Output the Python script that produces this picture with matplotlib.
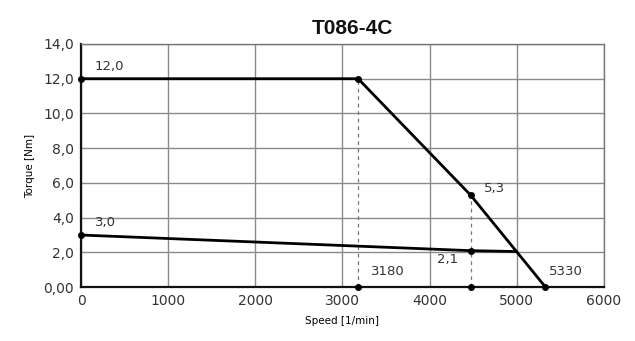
import numpy as np
import matplotlib
matplotlib.use('Agg')
from matplotlib import pyplot as plt

# torque curves (speed in 1/min, torque in Nm)
peak_speed = [0, 3180, 4470, 5330]
peak_torque = [12.0, 12.0, 5.3, 0.0]
cont_speed = [0, 4470, 4980]
cont_torque = [3.0, 2.1, 2.05]

# marker points
dot_x = [0, 0, 3180, 4470, 4470, 3180, 4470, 5330]
dot_y = [12.0, 3.0, 12.0, 5.3, 2.1, 0, 0, 0]

# dashed helper lines
dash_x = [3180, 4470]
dash_top = [12.0, 5.3]

# annotations
ann_text = ['12,0', '3,0', '5,3', '2,1', '3180', '5330']
ann_x = [160, 160, 4620, 4080, 3330, 5370]
ann_y = [12.35, 3.35, 5.3, 1.2, 0.5, 0.5]

xticks = [0, 1000, 2000, 3000, 4000, 5000, 6000]
yticks = [0, 2, 4, 6, 8, 10, 12, 14]
yticklabels = ['0,00', '2,0', '4,0', '6,0', '8,0', '10,0', '12,0', '14,0']

fig = plt.figure(figsize=(6.35, 3.41), dpi=100)
ax = fig.add_axes([0.1276, 0.158, 0.8234, 0.713])

ax.set_xlim(0, 6000)
ax.set_ylim(0, 14)
ax.set_xticks(xticks)
ax.set_yticks(yticks)
ax.set_yticklabels(yticklabels)
ax.grid(True, color='#8a8a8a', linewidth=1.0)
ax.set_axisbelow(True)
ax.tick_params(length=0, labelsize=10, colors='#333333', pad=5)

for s in ['top', 'right']:
    ax.spines[s].set_color('#777777')
    ax.spines[s].set_linewidth(1.0)
for s in ['left', 'bottom']:
    ax.spines[s].set_color('#111111')
    ax.spines[s].set_linewidth(1.6)

for x, t in zip(dash_x, dash_top):
    ax.plot([x, x], [0, t], color='#777777', linestyle=(0, (3, 3)), linewidth=0.9)

ax.plot(peak_speed, peak_torque, color='black', linewidth=2.0, solid_joinstyle='round')
ax.plot(cont_speed, cont_torque, color='black', linewidth=2.0)
ax.plot(dot_x, dot_y, 'o', color='black', markersize=4, clip_on=False, zorder=5)

for t, x, y in zip(ann_text, ann_x, ann_y):
    ax.text(x, y, t, fontsize=9.5, color='#333333', va='bottom', ha='left')

ax.set_xlabel('Speed [1/min]', fontsize=7.5, labelpad=6)
ax.set_ylabel('Torque [Nm]', fontsize=7.5, labelpad=6)

fig.text(0.555, 0.915, 'T086-4C', fontsize=15, fontweight='bold', ha='center', va='center',
         family=['Liberation Sans Narrow', 'Liberation Sans', 'DejaVu Sans'], color='#111111')

fig.savefig('out.png', dpi=100)
